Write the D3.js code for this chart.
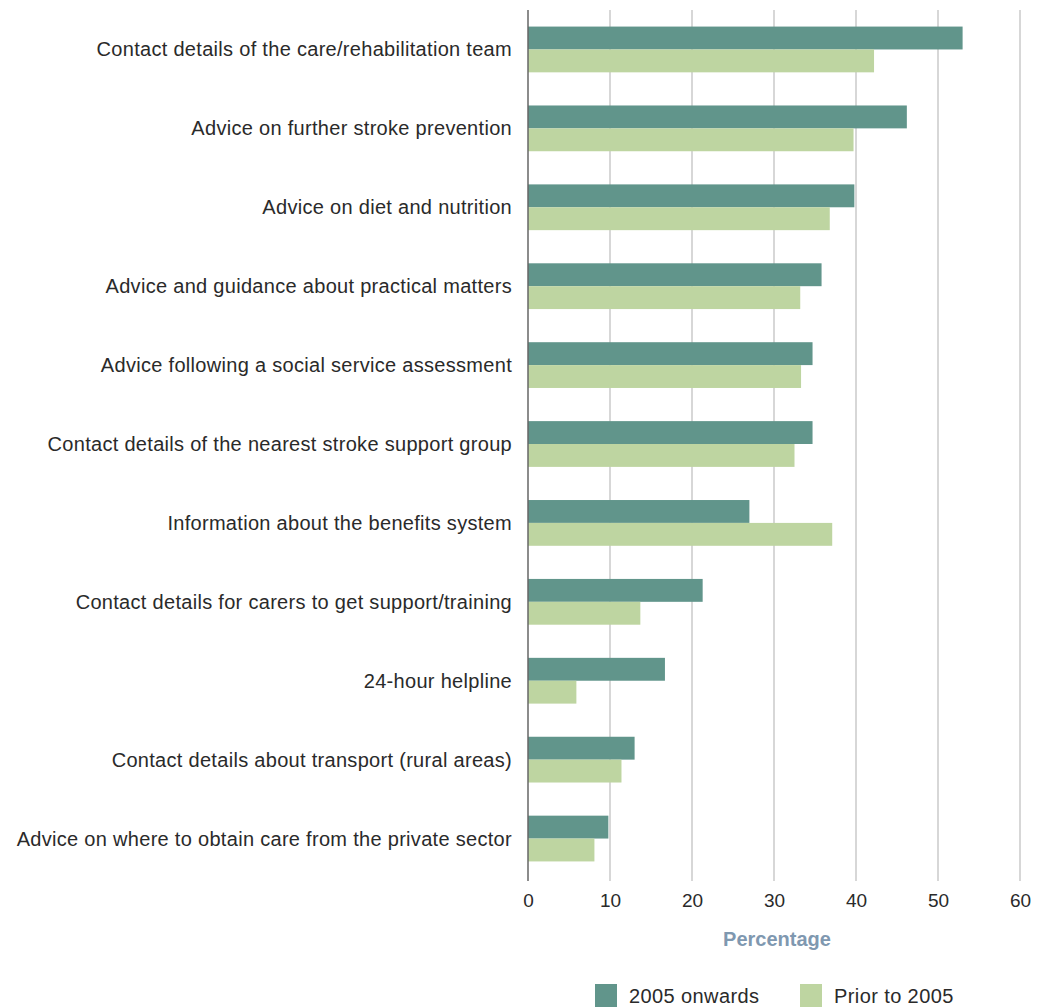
<!DOCTYPE html>
<html>
<head>
<meta charset="utf-8">
<script src="https://cdn.jsdelivr.net/npm/d3@7"></script>
<style>
  body { margin: 0; background: #fff; }
  text { font-family: "Liberation Sans", Arial, sans-serif; }
</style>
</head>
<body>
<div id="chart"></div>
<script>
var categories = [
  'Contact details of the care/rehabilitation team',
  'Advice on further stroke prevention',
  'Advice on diet and nutrition',
  'Advice and guidance about practical matters',
  'Advice following a social service assessment',
  'Contact details of the nearest stroke support group',
  'Information about the benefits system',
  'Contact details for carers to get support/training',
  '24-hour helpline',
  'Contact details about transport (rural areas)',
  'Advice on where to obtain care from the private sector'
];
var seriesNames = ['2005 onwards', 'Prior to 2005'];
var onwards2005 = [53.0, 46.2, 39.8, 35.8, 34.7, 34.7, 27.0, 21.3, 16.7, 13.0, 9.8];
var prior2005 = [42.2, 39.7, 36.8, 33.2, 33.3, 32.5, 37.1, 13.7, 5.9, 11.4, 8.1];
var xTicks = [0, 10, 20, 30, 40, 50, 60];
var colors = ['#61958b', '#bed5a1'];

var width = 1047, height = 1007;
var plotLeft = 528, plotRight = 1020, plotTop = 10, plotBottom = 878;

var svg = d3.select('#chart')
  .append('svg')
  .attr('width', width)
  .attr('height', height);

var x = d3.scaleLinear().domain([0, 60]).range([plotLeft, plotRight]);
var y = d3.scaleBand().domain(categories).range([plotTop, plotBottom])
  .paddingInner(0.42).paddingOuter(0.21);
var ySub = d3.scaleBand().domain(seriesNames).range([0, y.bandwidth()]);

// gridlines
svg.append('g')
  .selectAll('line')
  .data(xTicks.slice(1))
  .enter().append('line')
  .attr('x1', function(d){ return x(d); })
  .attr('x2', function(d){ return x(d); })
  .attr('y1', plotTop)
  .attr('y2', plotBottom + 3)
  .attr('stroke', '#bdbdbd')
  .attr('stroke-width', 1.2);

// bars
var rows = categories.map(function(c, i){
  return {cat: c, vals: [onwards2005[i], prior2005[i]]};
});

var groups = svg.append('g')
  .selectAll('g')
  .data(rows)
  .enter().append('g')
  .attr('transform', function(d){ return 'translate(0,' + y(d.cat) + ')'; });

groups.selectAll('rect')
  .data(function(d){ return d.vals.map(function(v, k){ return {name: seriesNames[k], value: v, k: k}; }); })
  .enter().append('rect')
  .attr('x', x(0))
  .attr('y', function(d){ return ySub(d.name); })
  .attr('width', function(d){ return x(d.value) - x(0); })
  .attr('height', ySub.bandwidth())
  .attr('fill', function(d){ return colors[d.k]; });

// axis line at zero
svg.append('line')
  .attr('x1', x(0)).attr('x2', x(0))
  .attr('y1', plotTop).attr('y2', plotBottom + 3)
  .attr('stroke', '#666')
  .attr('stroke-width', 1.5);

// category labels
svg.append('g')
  .selectAll('text')
  .data(categories)
  .enter().append('text')
  .attr('x', plotLeft - 16)
  .attr('y', function(d){ return y(d) + y.bandwidth() / 2; })
  .attr('text-anchor', 'end')
  .attr('dominant-baseline', 'central')
  .attr('fill', '#2a2a2a')
  .style('font-size', '20px')
  .style('letter-spacing', '0.3px')
  .text(function(d){ return d; });

// x axis
var xAxis = d3.axisBottom(x).tickValues(xTicks).tickSize(0).tickPadding(0);
var ax = svg.append('g')
  .attr('transform', 'translate(0,' + (plotBottom + 15) + ')')
  .call(xAxis);
ax.select('.domain').remove();
ax.selectAll('text')
  .attr('fill', '#2a2a2a')
  .style('font-size', '19px')
  .style('font-family', '"Liberation Sans", Arial, sans-serif');

svg.append('text')
  .attr('x', (plotLeft + plotRight) / 2 + 3)
  .attr('y', 946)
  .attr('text-anchor', 'middle')
  .attr('fill', '#7f98b0')
  .style('font-size', '20px')
  .style('font-weight', 'bold')
  .text('Percentage');

// legend
var legendX = [595, 800];
var legend = svg.append('g')
  .selectAll('g')
  .data(seriesNames)
  .enter().append('g')
  .attr('transform', function(d, i){ return 'translate(' + legendX[i] + ',984)'; });

legend.append('rect')
  .attr('width', 22)
  .attr('height', 24)
  .attr('fill', function(d, i){ return colors[i]; });

legend.append('text')
  .attr('x', 34)
  .attr('y', 19)
  .attr('fill', '#2a2a2a')
  .style('font-size', '20px')
  .style('letter-spacing', '0.4px')
  .text(function(d){ return d; });
</script>
</body>
</html>
